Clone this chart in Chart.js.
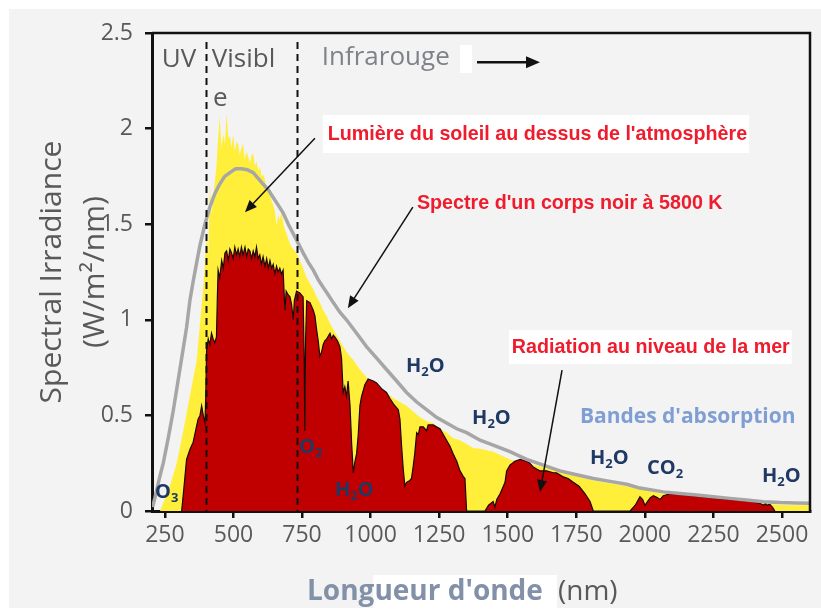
<!DOCTYPE html>
<html><head><meta charset="utf-8">
<script src="https://cdn.jsdelivr.net/npm/chart.js@4"></script>
<style>html,body{margin:0;padding:0;background:#fff;}</style>
</head><body>
<canvas id="c" width="821" height="609"></canvas>
<script>
// ---- tick labels ----
const wavelengthTicks = [250, 500, 750, 1000, 1250, 1500, 1750, 2000, 2250, 2500];
const irradianceTicks = [0, 0.5, 1, 1.5, 2, 2.5];
const regionBounds = [400, 730]; // UV | Visible | Infrared

// ---- black body 5800 K (grey line) ----
const blackbodyNm  = [205,214,225,235,244,262,280,300,318,329,341,353,366,378,396,414,432,450,468,487,508,529,550,572,590,608,627,645,663,681,700,718,736,754,773,791,809,827,846,864,888,912,949,985,1022,1058,1095,1131,1168,1204,1240,1277,1314,1350,1399,1447,1508,1569,1630,1690,1751,1812,1873,1934,1982,2067,2128,2189,2250,2310,2371,2432,2493,2550,2602];
const blackbodyVal = [0.02,0.07,0.14,0.20,0.25,0.38,0.52,0.70,0.86,0.96,1.10,1.20,1.30,1.39,1.50,1.59,1.66,1.71,1.75,1.77,1.79,1.79,1.785,1.77,1.74,1.71,1.68,1.64,1.60,1.56,1.50,1.45,1.40,1.35,1.30,1.26,1.21,1.17,1.13,1.09,1.04,1.00,0.93,0.86,0.80,0.74,0.68,0.62,0.57,0.53,0.49,0.46,0.43,0.41,0.37,0.345,0.31,0.27,0.24,0.21,0.19,0.17,0.155,0.14,0.12,0.10,0.092,0.084,0.075,0.066,0.057,0.049,0.044,0.042,0.04];

// ---- sunlight above the atmosphere (yellow) ----
const topAtmNm  = [232,268,293,317,341,366,378,390,396,402,408,414,420,426,432,438,444,450,456,463,469,475,481,487,493,499,505,511,517,523,529,535,541,548,554,560,566,572,578,584,590,596,603,609,615,621,627,633,639,645,651,657,663,669,676,682,688,694,700,706,712,718,724,730,742,754,767,779,791,803,815,827,840,852,864,876,888,900,918,937,961,985,1010,1034,1058,1083,1107,1131,1155,1180,1204,1228,1253,1277,1301,1326,1350,1374,1399,1447,1508,1569,1630,1690,1751,1812,1873,1934,1982,2031,2067,2128,2189,2250,2310,2371,2432,2493,2550,2602];
const topAtmVal = [0,0.13,0.25,0.42,0.60,0.79,0.98,1.17,1.30,1.45,1.35,1.71,1.55,1.63,1.72,1.80,1.95,2.06,1.90,1.97,1.92,2.08,1.95,1.96,1.90,1.97,1.88,1.93,1.92,1.86,1.90,1.92,1.84,1.88,1.85,1.82,1.86,1.87,1.80,1.83,1.78,1.80,1.75,1.76,1.73,1.68,1.70,1.66,1.62,1.60,1.57,1.49,1.55,1.52,1.57,1.50,1.47,1.45,1.42,1.40,1.38,1.37,1.36,1.35,1.31,1.27,1.22,1.19,1.16,1.12,1.09,1.05,1.02,0.98,0.95,0.92,0.89,0.86,0.82,0.79,0.74,0.70,0.67,0.65,0.62,0.59,0.57,0.55,0.52,0.49,0.47,0.46,0.43,0.41,0.38,0.37,0.35,0.33,0.325,0.31,0.27,0.25,0.23,0.205,0.18,0.16,0.145,0.13,0.115,0.10,0.09,0.082,0.075,0.066,0.057,0.048,0.04,0.032,0.03,0.03];

// ---- radiation at sea level (red) ----
const seaLevelNm  = [311,318,329,341,353,362,371,378,384,390,396,399,402,408,414,420,426,432,438,441,444,450,457,463,469,475,481,487,493,499,505,511,517,523,529,535,542,548,554,560,566,572,578,584,590,596,602,608,615,621,627,633,639,645,651,657,663,669,675,681,686,688,692,700,706,712,718,722,730,742,754,758,760,763,767,779,791,797,803,809,815,821,827,833,840,852,858,864,870,879,888,894,900,906,912,918,925,931,937,943,949,955,961,967,973,979,991,1010,1022,1040,1058,1070,1083,1101,1107,1113,1119,1125,1131,1143,1149,1155,1161,1168,1174,1180,1192,1204,1210,1228,1240,1253,1265,1277,1289,1301,1314,1326,1338,1344,1350,1417,1430,1447,1453,1460,1472,1484,1490,1496,1508,1526,1545,1569,1581,1593,1605,1617,1642,1666,1678,1700,1720,1739,1760,1782,1800,1812,1946,1965,1982,1992,2000,2010,2020,2031,2045,2055,2067,2092,2128,2165,2210,2262,2320,2383,2420,2432,2440,2444,2455,2465,2474];
const seaLevelVal = [0,0.10,0.27,0.32,0.36,0.42,0.48,0.50,0.55,0.50,0.46,0.60,0.84,0.90,0.87,0.93,0.90,0.88,0.91,1.10,1.26,1.22,1.31,1.27,1.35,1.36,1.31,1.37,1.35,1.32,1.38,1.34,1.37,1.33,1.38,1.34,1.38,1.33,1.37,1.36,1.32,1.36,1.33,1.38,1.32,1.34,1.29,1.33,1.28,1.32,1.27,1.31,1.27,1.29,1.24,1.28,1.25,1.27,1.24,1.26,1.10,1.05,1.15,1.13,1.12,1.08,1.00,1.10,1.15,1.14,1.12,0.80,0.42,0.90,1.10,1.09,1.05,1.02,0.95,0.89,0.81,0.83,0.87,0.89,0.90,0.93,0.90,0.92,0.91,0.89,0.86,0.80,0.62,0.65,0.60,0.68,0.55,0.35,0.20,0.26,0.30,0.40,0.55,0.60,0.63,0.66,0.69,0.68,0.67,0.64,0.62,0.59,0.56,0.53,0.48,0.34,0.22,0.13,0.15,0.16,0.17,0.23,0.30,0.41,0.40,0.44,0.44,0.42,0.45,0.45,0.44,0.43,0.40,0.37,0.34,0.30,0.26,0.21,0.18,0.17,0,0,0.03,0.05,0.02,0.06,0.09,0.13,0.15,0.21,0.24,0.26,0.27,0.26,0.25,0.23,0.22,0.21,0.21,0.20,0.20,0.18,0.17,0.15,0.13,0.09,0.05,0,0,0.03,0.075,0.06,0.03,0.05,0.07,0.08,0.07,0.06,0.08,0.09,0.085,0.08,0.075,0.066,0.06,0.05,0.04,0.03,0.04,0.03,0.035,0.02,0];

const toPoints = (xs, ys) => xs.map((x, i) => ({x, y: ys[i]}));

// ---- annotations (positions in data units: nm, W/m²/nm) ----
const RED = '#ee1c2c', NAVY = '#1f3864', GREY = '#595959';
const RED_FONT = 'bold 19.7px "Liberation Sans"';
const labelTexts = [
  {text:'UV', nm:239, v:2.363, font:'26px "Open Sans"', color:GREY},
  {text:'Visibl', nm:421, v:2.363, font:'26px "Open Sans"', color:GREY},
  {text:'e', nm:425, v:2.159, font:'26px "Open Sans"', color:GREY},
  {text:'Infrarouge', nm:822, v:2.373, font:'26px "Open Sans"', color:'#7f8288'},
  {text:"Lumière du soleil au dessus de l'atmosphère", nm:844, v:1.971, font:RED_FONT, color:RED, box:[5,2,19]},
  {text:"Spectre d'un corps noir à 5800 K", nm:1169, v:1.610, font:RED_FONT, color:RED},
  {text:'Radiation au niveau de la mer', nm:1515, v:0.857, font:RED_FONT, color:RED, box:[3,2,17]},
  {text:"Bandes d'absorption", nm:1763, v:0.491, font:'bold 21px "Open Sans"', color:'#7f9fd4'}
];
const chemLabels = [
  {parts:[['O',0],['3',1]], nm:214, v:0.099},
  {parts:[['O',0],['2',1]], nm:739, v:0.335},
  {parts:[['H',0],['2',1],['O',0]], nm:870, v:0.110},
  {parts:[['H',0],['2',1],['O',0]], nm:1129, v:0.758},
  {parts:[['H',0],['2',1],['O',0]], nm:1370, v:0.486},
  {parts:[['H',0],['2',1],['O',0]], nm:1800, v:0.277},
  {parts:[['C',0],['O',0],['2',1]], nm:2008, v:0.225},
  {parts:[['H',0],['2',1],['O',0]], nm:2427, v:0.183}
];
const arrows = [
  {from:[797,1.950], to:[542,1.563], w:1.5, head:12},
  {from:[1154,1.589], to:[917,1.061], w:1.5, head:12},
  {from:[1698,0.737], to:[1617.5,0.099], w:1.5, head:12},
  {from:[1388,2.347], to:[1617.6,2.347], w:2.5, head:14}
];

const decor = {
  id:'decor',
  beforeDraw(chart){
    const c = chart.ctx;
    c.save();
    c.fillStyle = '#ffffff'; c.fillRect(0,0,chart.width,chart.height);
    c.fillStyle = '#f3f3f3'; c.fillRect(9,9,chart.width-9,chart.height-10);
    c.fillStyle = '#ffffff'; c.fillRect(373,575,184,33);
    c.fillRect(460,45,12,28);
    c.restore();
  },
  afterDatasetsDraw(chart){
    const c = chart.ctx, xs = chart.scales.x, a = chart.chartArea;
    c.save();
    c.strokeStyle = '#111'; c.lineWidth = 2; c.setLineDash([7,5]);
    regionBounds.forEach(nm => {
      const px = Math.round(xs.getPixelForValue(nm)) + 0.5;
      c.beginPath(); c.moveTo(px, a.top + 9); c.lineTo(px, a.bottom); c.stroke();
    });
    c.restore();
  },
  afterDraw(chart){
    const c = chart.ctx, xs = chart.scales.x, ys = chart.scales.y, a = chart.chartArea;
    c.save();
    c.strokeStyle = '#111'; c.lineWidth = 2.5;
    c.beginPath(); c.moveTo(a.left, a.top); c.lineTo(a.right, a.top); c.lineTo(a.right, a.bottom); c.stroke();
    c.textBaseline = 'middle'; c.textAlign = 'left';
    labelTexts.forEach(t => {
      const x = xs.getPixelForValue(t.nm), y = ys.getPixelForValue(t.v);
      c.font = t.font;
      if (t.box) {
        const w = c.measureText(t.text).width;
        c.fillStyle = '#ffffff';
        c.fillRect(x - t.box[0], y - t.box[2], w + t.box[0] + t.box[1], t.box[2]*2);
      }
      c.fillStyle = t.color; c.fillText(t.text, x, y);
    });
    chemLabels.forEach(l => {
      let x = xs.getPixelForValue(l.nm); const y = ys.getPixelForValue(l.v);
      c.fillStyle = NAVY;
      l.parts.forEach(([s, sub]) => {
        c.font = sub ? 'bold 13px "Open Sans"' : 'bold 20px "Open Sans"';
        c.fillText(s, x, sub ? y + 6 : y);
        x += c.measureText(s).width;
      });
    });
    arrows.forEach(ar => {
      const x1 = xs.getPixelForValue(ar.from[0]), y1 = ys.getPixelForValue(ar.from[1]);
      const x2 = xs.getPixelForValue(ar.to[0]), y2 = ys.getPixelForValue(ar.to[1]);
      const ang = Math.atan2(y2 - y1, x2 - x1), h = ar.head, hw = h * 0.42;
      const bx = x2 - h * Math.cos(ang), by = y2 - h * Math.sin(ang);
      c.strokeStyle = '#111'; c.fillStyle = '#111'; c.lineWidth = ar.w;
      c.beginPath(); c.moveTo(x1, y1); c.lineTo(bx, by); c.stroke();
      c.beginPath(); c.moveTo(x2, y2);
      c.lineTo(bx + hw * Math.sin(ang), by - hw * Math.cos(ang));
      c.lineTo(bx - hw * Math.sin(ang), by + hw * Math.cos(ang));
      c.closePath(); c.fill();
    });
    const cx = 307, cy = 592;
    c.font = 'bold 28px "Open Sans"'; c.fillStyle = '#8291a8';
    c.fillText("Longueur d'onde", cx, cy);
    c.font = '28px "Open Sans"'; c.fillStyle = GREY;
    c.fillText('(nm)', 558, cy);
    c.restore();
  }
};

new Chart(document.getElementById('c'), {
  type: 'line',
  data: {
    datasets: [
      {label:'Spectre d\'un corps noir à 5800 K', data: toPoints(blackbodyNm, blackbodyVal), borderColor:'#a6a6a6', borderWidth:3.5, fill:false},
      {label:'Radiation au niveau de la mer', data: toPoints(seaLevelNm, seaLevelVal), borderColor:'#1a0a0a', borderWidth:1.2, backgroundColor:'#c00000', fill:'origin'},
      {label:'Lumière du soleil au dessus de l\'atmosphère', data: toPoints(topAtmNm, topAtmVal), borderWidth:0, borderColor:'rgba(0,0,0,0)', backgroundColor:'#ffee3a', fill:'origin'}
    ]
  },
  options: {
    responsive:false, animation:false, devicePixelRatio:1,
    layout:{padding:{left:0, top:33, right:11, bottom:0}},
    elements:{point:{radius:0}, line:{tension:0}},
    plugins:{legend:{display:false}, tooltip:{enabled:false}},
    scales:{
      x:{type:'linear', min:203, max:2602, z:1,
        afterBuildTicks: s => { s.ticks = wavelengthTicks.map(v => ({value:v})); },
        afterFit: s => { s.height = 98; },
        ticks:{color:GREY, font:{family:'Open Sans', size:23}, padding:4, maxRotation:0, autoSkip:false, callback: v => String(v)},
        grid:{drawOnChartArea:false, drawTicks:true, tickLength:7, color:'#111', lineWidth:2.5},
        border:{display:true, color:'#111', width:3}
      },
      y:{type:'linear', min:0, max:2.5, z:1,
        afterBuildTicks: s => { s.ticks = irradianceTicks.map(v => ({value:v})); },
        afterFit: s => { s.width = 152; },
        ticks:{color:GREY, font:{family:'Open Sans', size:23}, padding:12, callback: v => String(v)},
        grid:{drawOnChartArea:false, drawTicks:true, tickLength:7, color:'#111', lineWidth:2.5},
        border:{display:true, color:'#111', width:3},
        title:{display:true, text:['Spectral Irradiance','(W/m²/nm)'], color:GREY,
          font:{family:'Open Sans', size:30, lineHeight:1.43}, padding:{top:31, bottom:0}}
      }
    }
  },
  plugins:[decor]
});
</script>
</body></html>
